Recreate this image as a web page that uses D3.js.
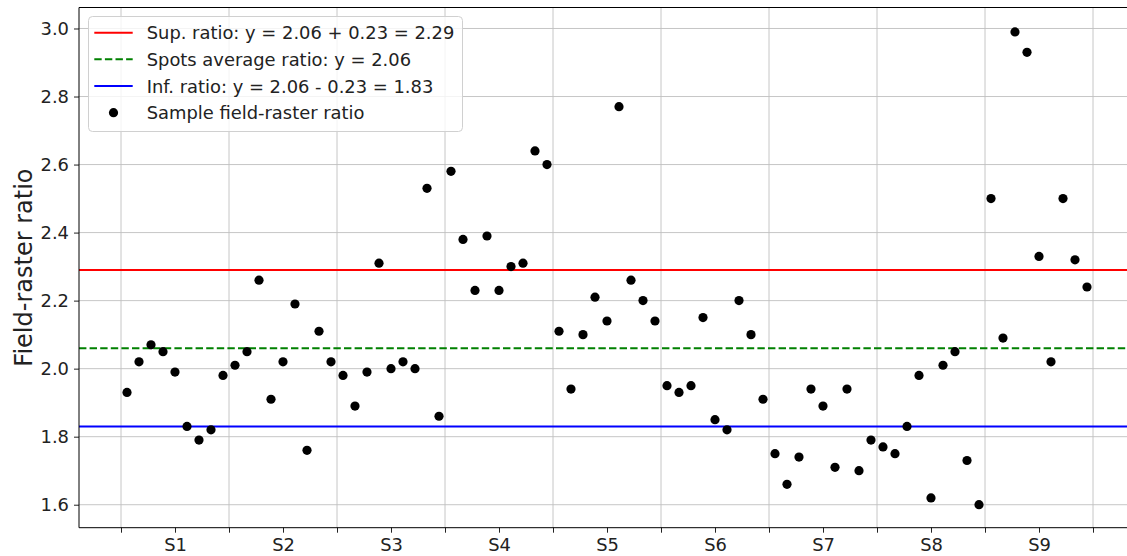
<!DOCTYPE html>
<html>
<head>
<meta charset="utf-8">
<script src="https://cdn.jsdelivr.net/npm/d3@7"></script>
<style>
  body { margin: 0; background: #fff; }
  svg { display: block; font-family: "DejaVu Sans", sans-serif; }
</style>
</head>
<body>
<svg id="chart" width="1127" height="556"></svg>
<script>
// ---- data ----
const spots = ["S1", "S2", "S3", "S4", "S5", "S6", "S7", "S8", "S9"];
const s1 = [1.93, 2.02, 2.07, 2.05, 1.99, 1.83, 1.79, 1.82, 1.98];
const s2 = [2.01, 2.05, 2.26, 1.91, 2.02, 2.19, 1.76, 2.11, 2.02];
const s3 = [1.98, 1.89, 1.99, 2.31, 2.00, 2.02, 2.00, 2.53, 1.86];
const s4 = [2.58, 2.38, 2.23, 2.39, 2.23, 2.30, 2.31, 2.64, 2.60];
const s5 = [2.11, 1.94, 2.10, 2.21, 2.14, 2.77, 2.26, 2.20, 2.14];
const s6 = [1.95, 1.93, 1.95, 2.15, 1.85, 1.82, 2.20, 2.10, 1.91];
const s7 = [1.75, 1.66, 1.74, 1.94, 1.89, 1.71, 1.94, 1.70, 1.79];
const s8 = [1.77, 1.75, 1.83, 1.98, 1.62, 2.01, 2.05, 1.73, 1.60];
const s9 = [2.50, 2.09, 2.99, 2.93, 2.33, 2.02, 2.50, 2.32, 2.24];
const spotSamples = [s1, s2, s3, s4, s5, s6, s7, s8, s9];
const avgRatio = 2.06;
const delta = 0.23;
const yTicks = [1.6, 1.8, 2.0, 2.2, 2.4, 2.6, 2.8, 3.0];
const legendLabels = [
  "Sup. ratio: y = 2.06 + 0.23 = 2.29",
  "Spots average ratio: y = 2.06",
  "Inf. ratio: y = 2.06 - 0.23 = 1.83",
  "Sample field-raster ratio"
];

// flattened samples
const perSpot = s1.length;
const points = [];
spotSamples.forEach((arr, si) => arr.forEach((v, j) => points.push({ i: si * perSpot + j, v })));

// ---- layout ----
const svg = d3.select("#chart");
const L = 79, R = 1135, T = 7.5, B = 527.7;
const FS = 17.9;
const x = d3.scaleLinear().domain([-4, points.length + 3]).range([L, R]);
const y = d3.scaleLinear().domain([1.5324, 3.0617]).range([B, T]);

const gridPos = d3.range(spots.length + 1).map(k => k * perSpot - 0.5);
const labelPos = spots.map((s, k) => k * perSpot + (perSpot - 1) / 2);

// grid
const grid = svg.append("g");
grid.selectAll("line.v").data(gridPos).join("line")
  .attr("x1", d => x(d)).attr("x2", d => x(d)).attr("y1", T).attr("y2", B)
  .attr("stroke", "#c0c0c0").attr("stroke-width", 0.9);
grid.selectAll("line.h").data(yTicks).join("line")
  .attr("x1", L).attr("x2", R).attr("y1", d => y(d)).attr("y2", d => y(d))
  .attr("stroke", "#c0c0c0").attr("stroke-width", 0.9);

// reference lines
const refs = [
  { v: avgRatio + delta, c: "#ff0000", dash: null },
  { v: avgRatio, c: "#008000", dash: "7.4,3.2" },
  { v: avgRatio - delta, c: "#0000ff", dash: null }
];
svg.append("g").selectAll("line").data(refs).join("line")
  .attr("x1", L).attr("x2", R).attr("y1", d => y(d.v)).attr("y2", d => y(d.v))
  .attr("stroke", d => d.c).attr("stroke-width", 2)
  .attr("stroke-dasharray", d => d.dash);

// points
svg.append("g").selectAll("circle").data(points).join("circle")
  .attr("cx", d => x(d.i)).attr("cy", d => y(d.v)).attr("r", 4.6).attr("fill", "#000");

// axes
const xAxisMajor = d3.axisBottom(x).tickValues(gridPos).tickFormat("").tickSize(5);
const xAxisLab = d3.axisBottom(x).tickValues(labelPos).tickFormat((d, i) => spots[i]).tickSize(5).tickPadding(6);
const yAxis = d3.axisLeft(y).tickValues(yTicks).tickFormat(d3.format(".1f")).tickSize(5).tickPadding(5);

function style(g) {
  g.select(".domain").remove();
  g.selectAll("text").attr("font-size", FS).attr("fill", "#222").attr("font-family", "DejaVu Sans, sans-serif");
  g.selectAll("line").attr("stroke", "#222");
}
svg.append("g").attr("transform", `translate(0,${B})`).call(xAxisMajor).call(style);
svg.append("g").attr("transform", `translate(0,${B})`).call(xAxisLab).call(style);
svg.append("g").attr("transform", `translate(${L},0)`).call(yAxis).call(style);

// spines
svg.append("line").attr("x1", L).attr("x2", L).attr("y1", T).attr("y2", B).attr("stroke", "#000").attr("stroke-width", 1);
svg.append("line").attr("x1", L).attr("x2", R).attr("y1", B).attr("y2", B).attr("stroke", "#000").attr("stroke-width", 1);
svg.append("line").attr("x1", L).attr("x2", R).attr("y1", T).attr("y2", T).attr("stroke", "#000").attr("stroke-width", 1);

// y label
svg.append("text")
  .attr("transform", `translate(32,${(T + B) / 2}) rotate(-90)`)
  .attr("text-anchor", "middle")
  .attr("font-size", 24).attr("fill", "#222")
  .text("Field-raster ratio");

// legend
const lg = svg.append("g");
lg.append("rect").attr("x", 88.5).attr("y", 16.5).attr("width", 374).attr("height", 115)
  .attr("rx", 4).attr("fill", "#fff").attr("fill-opacity", 0.8).attr("stroke", "#d0d0d0");
const rowY = [32.7, 59.3, 86, 112.7];
const legendItems = [refs[0], refs[1], refs[2], { c: "#000", point: true }];
legendItems.forEach((it, k) => {
  if (it.point) {
    lg.append("circle").attr("cx", 113.5).attr("cy", rowY[k]).attr("r", 4.6).attr("fill", "#000");
  } else {
    lg.append("line").attr("x1", 94.3).attr("x2", 132.7).attr("y1", rowY[k]).attr("y2", rowY[k])
      .attr("stroke", it.c).attr("stroke-width", 2).attr("stroke-dasharray", it.dash);
  }
  lg.append("text").attr("x", 146.7).attr("y", rowY[k] + 6.5).attr("font-size", FS).attr("fill", "#222")
    .text(legendLabels[k]);
});
</script>
</body>
</html>
